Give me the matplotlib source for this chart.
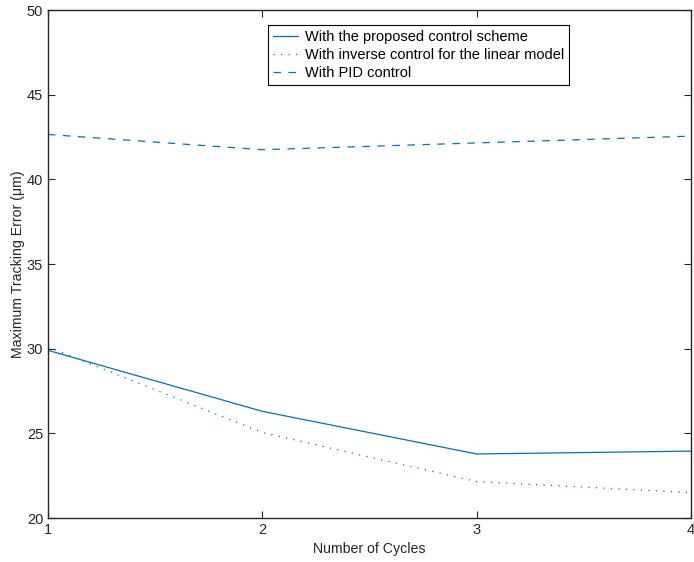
import matplotlib
matplotlib.use("Agg")
import matplotlib.pyplot as plt

cycles = [1, 2, 3, 4]
proposed = [29.9, 26.3, 23.78, 23.95]
inverse_linear = [30.1, 25.05, 22.15, 21.5]
pid = [42.65, 41.75, 42.15, 42.55]
labels = ["With the proposed control scheme",
          "With inverse control for the linear model",
          "With PID control"]

plt.rcParams['font.family'] = ['Liberation Sans', 'DejaVu Sans']
color = '#0072BD'
dark = '#262626'

fig = plt.figure(figsize=(6.94, 5.62), dpi=100)
ax = fig.add_axes([48/694, 44/562, 643/694, 508/562])
ax.plot(cycles, proposed, '-', color=color, lw=0.9, label=labels[0])
ax.plot(cycles, inverse_linear, color=color, lw=0.9, dashes=(1, 5), label=labels[1])
ax.plot(cycles, pid, color=color, lw=0.9, dashes=(6, 6), label=labels[2])

ax.set_xlim(1, 4)
ax.set_ylim(20, 50)
ax.set_xticks([1, 2, 3, 4])
ax.set_yticks([20, 25, 30, 35, 40, 45, 50])
ax.tick_params(direction='in', top=True, right=True, labelsize=10.5, length=5,
               width=0.8, colors=dark)
for s in ax.spines.values():
    s.set_linewidth(1.0)
    s.set_color(dark)
ax.set_xlabel('Number of Cycles', fontsize=10.2, color=dark)
ax.set_ylabel('Maximum Tracking Error (μm)', fontsize=10.2, color=dark, labelpad=1)
leg = ax.legend(loc='upper left', bbox_to_anchor=(0.3416, 0.9705), borderaxespad=0,
                fontsize=10.5, fancybox=False, framealpha=1, edgecolor='black',
                borderpad=0.35, labelspacing=0.28, handlelength=1.7,
                handletextpad=0.5)
leg.get_frame().set_linewidth(0.8)
fig.savefig('out.png', dpi=100)
